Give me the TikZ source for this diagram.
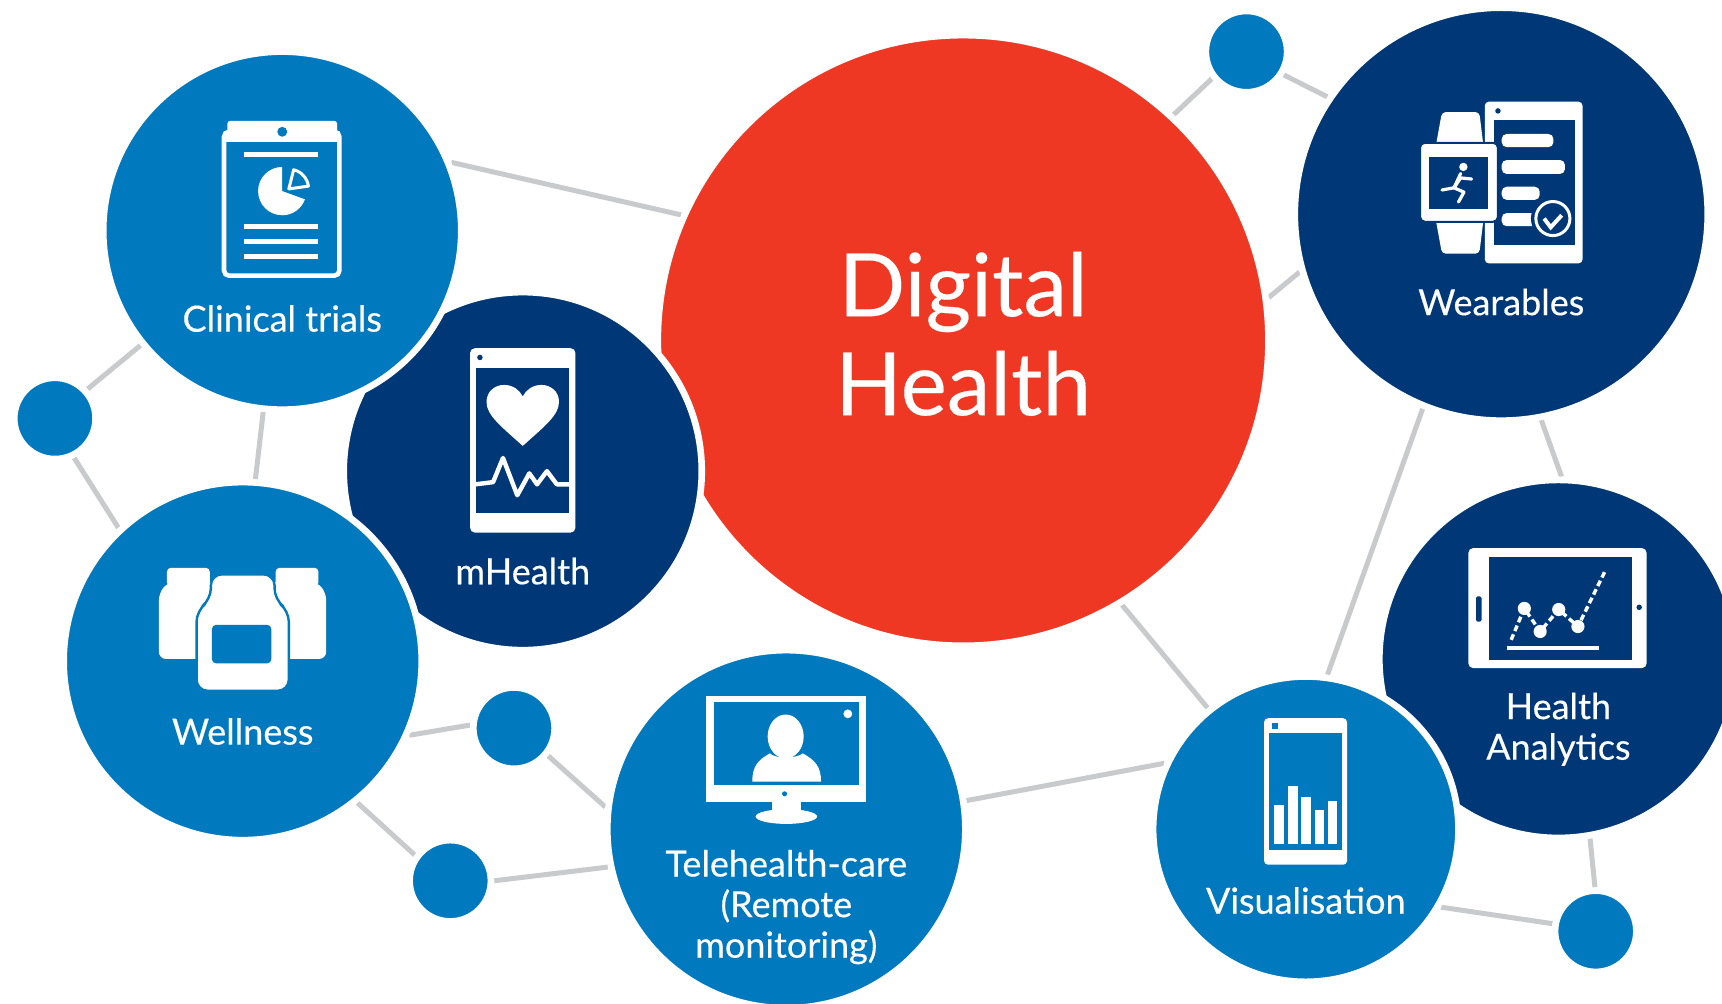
\documentclass[tikz,border=0pt]{standalone}
\usepackage{fontspec}
\setmainfont{Lato}
\newfontfamily\labfont{Lato}[FakeBold=0.3]
\newfontfamily\titlefont{Lato}[FakeBold=0.2]
\usetikzlibrary{backgrounds}
\definecolor{blueC}{RGB}{0,121,191}
\definecolor{navyC}{RGB}{0,56,119}
\definecolor{redC}{RGB}{238,56,36}
\definecolor{lineC}{RGB}{200,202,204}
\tikzset{
  disc/.style={circle,draw=white,line width=6.6pt,inner sep=0pt,minimum size={(#1)*2.1964pt}},
  big/.style={disc=#1,fill=blueC},
  deep/.style={disc=#1,fill=navyC},
  link/.style={draw=lineC,line width=5pt},
  lab/.style={text=white,inner sep=0pt,align=center,font=\labfont\fontsize{36}{40.6}\selectfont},
  title/.style={text=white,inner sep=0pt,align=center,font=\titlefont\fontsize{87.5}{99}\selectfont},
  ic/.style={fill=white,draw=none},
  icl/.style={draw=white,fill=none,line width=4.6pt}
}
\begin{document}
\begin{tikzpicture}[x=1.0982pt,y=1.0982pt]
\useasboundingbox (0,0) rectangle (1568,-914);
\clip (0,0) rectangle (1568,-914);
% discs
\node[disc=278,fill=redC] (dig) at (877,-310) {};
\node[deep=163] (mh) at (476,-429) {};
\node[big=163] (clin) at (257,-210) {};
\node[big=163] (well) at (221,-602) {};
\node[big=163] (tele) at (716,-755) {};
\node[deep=163] (ha) at (1419,-600) {};
\node[big=139] (vis) at (1189,-755) {};
\node[deep=188] (wear) at (1367,-195) {};
\node[big=37] (d1) at (1135,-47) {};
\node[big=37] (d2) at (50,-381) {};
\node[big=37] (d3) at (468,-663) {};
\node[big=37] (d4) at (410,-802) {};
\node[big=37] (d5) at (1453,-848) {};
% connectors
\begin{pgfonlayer}{background}
\fill[white] (0,0) rectangle (1568,-914);
\draw[link] (clin.22.8) -- (dig.156.1);
\draw[link] (clin.219.9) -- (d2.42.2);
\draw[link] (d2.296) -- (well.133.6);
\draw[link] (clin.264.6) -- (well.86.9);
\draw[link] (well.336.2) -- (d3.176);
\draw[link] (d3.321.5) -- (tele.173.1);
\draw[link] (well.309.2) -- (d4.144.5);
\draw[link] (d4.0) -- (tele.192);
\draw[link] (tele.9.6) -- (vis.155.4);
\draw[link] (dig.301.5) -- (vis.129.4);
\draw[link] (dig.8.7) -- (wear.196.6);
\draw[link] (dig.47.8) -- (d1.218.7);
\draw[link] (d1.328) -- (wear.146.7);
\draw[link] (wear.248.2) -- (vis.82.8);
\draw[link] (wear.281.3) -- (ha.89.7);
\draw[link] (ha.280.3) -- (d5.91.3);
\draw[link] (vis.330.7) -- (d5.170.8);
\end{pgfonlayer}
% clinical trials icon
\fill[ic,rounded corners=3pt] (207,-110) rectangle (307,-129);
\draw[icl,rounded corners=5pt] (204,-120) rectangle (309,-251);
\fill[ic] (204,-120) rectangle (309,-129);
\fill[blueC] (257,-120) circle (4.5);
\draw[icl] (222.5,-140.5) -- (290,-140.5);
\draw[icl] (222.5,-206.5) -- (290,-206.5);
\draw[icl] (222.5,-220) -- (290,-220);
\draw[icl] (222.5,-233.5) -- (290,-233.5);
\fill[ic] (257,-174) -- ++(90:22) arc[start angle=90,end angle=340,radius=22] -- cycle;
\draw[white,line width=3pt,line join=round] (263,-172) -- ++(76:18) arc[start angle=76,end angle=8,radius=18] -- cycle;
% mHealth icon
\fill[ic,rounded corners=5pt] (428,-317) rectangle (524,-485);
\fill[navyC] (433,-335) rectangle (518,-467);
\fill[navyC] (437,-325.5) circle (2.5);
\fill[ic] (476,-406) .. controls (456,-388) and (443,-378) .. (443,-366) .. controls (443,-356) and (451,-350.5) .. (459,-350.5) .. controls (467,-350.5) and (473,-355) .. (476,-361) .. controls (479,-355) and (485,-350.5) .. (493,-350.5) .. controls (501,-350.5) and (509,-356) .. (509,-366) .. controls (509,-378) and (496,-388) .. (476,-406) -- cycle;
\draw[white,line width=4.4pt,line join=round] (433,-441) -- (449,-439) -- (458,-417) -- (471,-451) -- (482,-431) -- (489,-441) -- (498,-429) -- (507,-441) -- (518,-441);
% wellness icon
\fill[ic,rounded corners=4pt] (152,-517) rectangle (191,-534);
\fill[ic,rounded corners=7pt] (144.7,-600) -- (144.7,-540) -- (153,-530) -- (198,-530) -- (198,-600) -- cycle;
\fill[ic,rounded corners=4pt] (251,-517) rectangle (290,-534);
\fill[ic,rounded corners=7pt] (297,-600) -- (297,-540) -- (289,-530) -- (244,-530) -- (244,-600) -- cycle;
\draw[blueC,line width=2.4pt,fill=white,rounded corners=11pt] (179,-629) -- (179,-556) -- (192,-546) -- (192,-523) -- (250,-523) -- (250,-546) -- (263,-556) -- (263,-629) -- cycle;
\fill[blueC,rounded corners=4pt] (193,-569) rectangle (247,-604);
% telehealth icon
\fill[ic] (643,-633.6) rectangle (788.5,-730);
\fill[blueC] (650.5,-638.8) rectangle (782,-715.2);
\fill[blueC] (714.4,-722.8) circle (2.3);
\fill[ic] (772,-650) circle (4);
\fill[ic] (703,-730) rectangle (729,-740);
\fill[ic] (716,-743.5) ellipse (28 and 6.7);
\fill[ic] (715.4,-670.6) ellipse (16.4 and 20);
\fill[ic] (685,-711.6) .. controls (685,-698) and (690,-692) .. (701,-686) .. controls (706,-691) and (725,-691) .. (731,-686) .. controls (742,-692) and (747.6,-698) .. (747.6,-711.6) -- cycle;
% wearables icon
\fill[ic,rounded corners=4pt] (1352,-92.6) rectangle (1441,-239.8);
\fill[navyC] (1360,-109) rectangle (1434,-223);
\fill[navyC] (1364,-101) circle (2.5);
\fill[ic,rounded corners=5pt] (1367.4,-122) rectangle (1414.5,-134);
\fill[ic,rounded corners=5pt] (1367.4,-145.7) rectangle (1425,-158.4);
\fill[ic,rounded corners=5pt] (1367.4,-170) rectangle (1402,-182);
\fill[ic,rounded corners=5pt] (1367.4,-194) rectangle (1401,-206);
\fill[navyC] (1414,-199) circle (20);
\draw[white,line width=3pt] (1414,-199) circle (15.5);
\draw[white,line width=4pt] (1406,-199) -- (1412,-207) -- (1422,-196);
\fill[ic,rounded corners=4pt] (1313,-102) -- (1347,-102) -- (1351,-135) -- (1307,-135) -- cycle;
\fill[ic,rounded corners=4pt] (1307,-198) -- (1351,-198) -- (1347,-231) -- (1313,-231) -- cycle;
\draw[navyC,line width=2pt,fill=white,rounded corners=5pt] (1293,-130) rectangle (1364,-202);
\fill[navyC] (1301.6,-143) rectangle (1355,-190);
\fill[ic] (1332.5,-152) circle (3.8);
\draw[white,line width=3.2pt,line join=round,line cap=round] (1340,-163) -- (1330,-162) -- (1324,-171) -- (1313,-173);
\draw[white,line width=3.2pt,line join=round,line cap=round] (1330,-158) -- (1324,-171) -- (1333,-175) -- (1328,-184);
% analytics icon
\fill[ic,rounded corners=5pt] (1337,-499) rectangle (1499.4,-608.4);
\fill[navyC] (1355.7,-506.8) rectangle (1486,-600.8);
\fill[navyC,rounded corners=1.5pt] (1344,-543) rectangle (1349,-566);
\fill[navyC] (1492.6,-553) circle (2.5);
\draw[white,line width=4pt] (1372,-590) -- (1456.4,-590);
\draw[white,line width=3.4pt,dashed,dash pattern=on 6pt off 3.5pt] (1376,-582.6) -- (1388,-554) -- (1402.4,-575) -- (1419.3,-555) -- (1436.8,-570.5) -- (1462,-519);
\fill[ic] (1388,-554) circle (6);
\fill[ic] (1402.4,-575) circle (6);
\fill[ic] (1419.3,-555) circle (6);
\fill[ic] (1436.8,-570.5) circle (6);
% visualisation icon
\fill[ic,rounded corners=4pt] (1151,-654) rectangle (1226.6,-787.4);
\fill[blueC] (1155.6,-667.6) rectangle (1222,-774);
\fill[blueC] (1158,-658.5) rectangle (1163.5,-664);
\fill[ic] (1160.4,-732.8) rectangle (1169,-768.3);
\fill[ic] (1173,-716) rectangle (1182,-768.3);
\fill[ic] (1185,-726) rectangle (1193.5,-768.3);
\fill[ic] (1197,-738) rectangle (1205.3,-768.3);
\fill[ic] (1209,-729.8) rectangle (1217.8,-768.3);
% labels
\node[title] (tdig) at (877,-304) {Digital\\Health};
\node[lab,anchor=base] (tclin) at (257,-302) {Clinical trials};
\node[lab,anchor=base] (tmh) at (476,-532) {mHealth};
\node[lab,anchor=base] (twell) at (221,-678) {Wellness};
\node[lab] (ttele) at (716,-826) {Telehealth-care\\(Remote\\monitoring)};
\node[lab] (tha) at (1419,-664) {Health\\Analytics};
\node[lab,anchor=base] (tvis) at (1189,-832) {Visualisation};
\node[lab,anchor=base] (twear) at (1367,-287) {Wearables};
\end{tikzpicture}
\end{document}
